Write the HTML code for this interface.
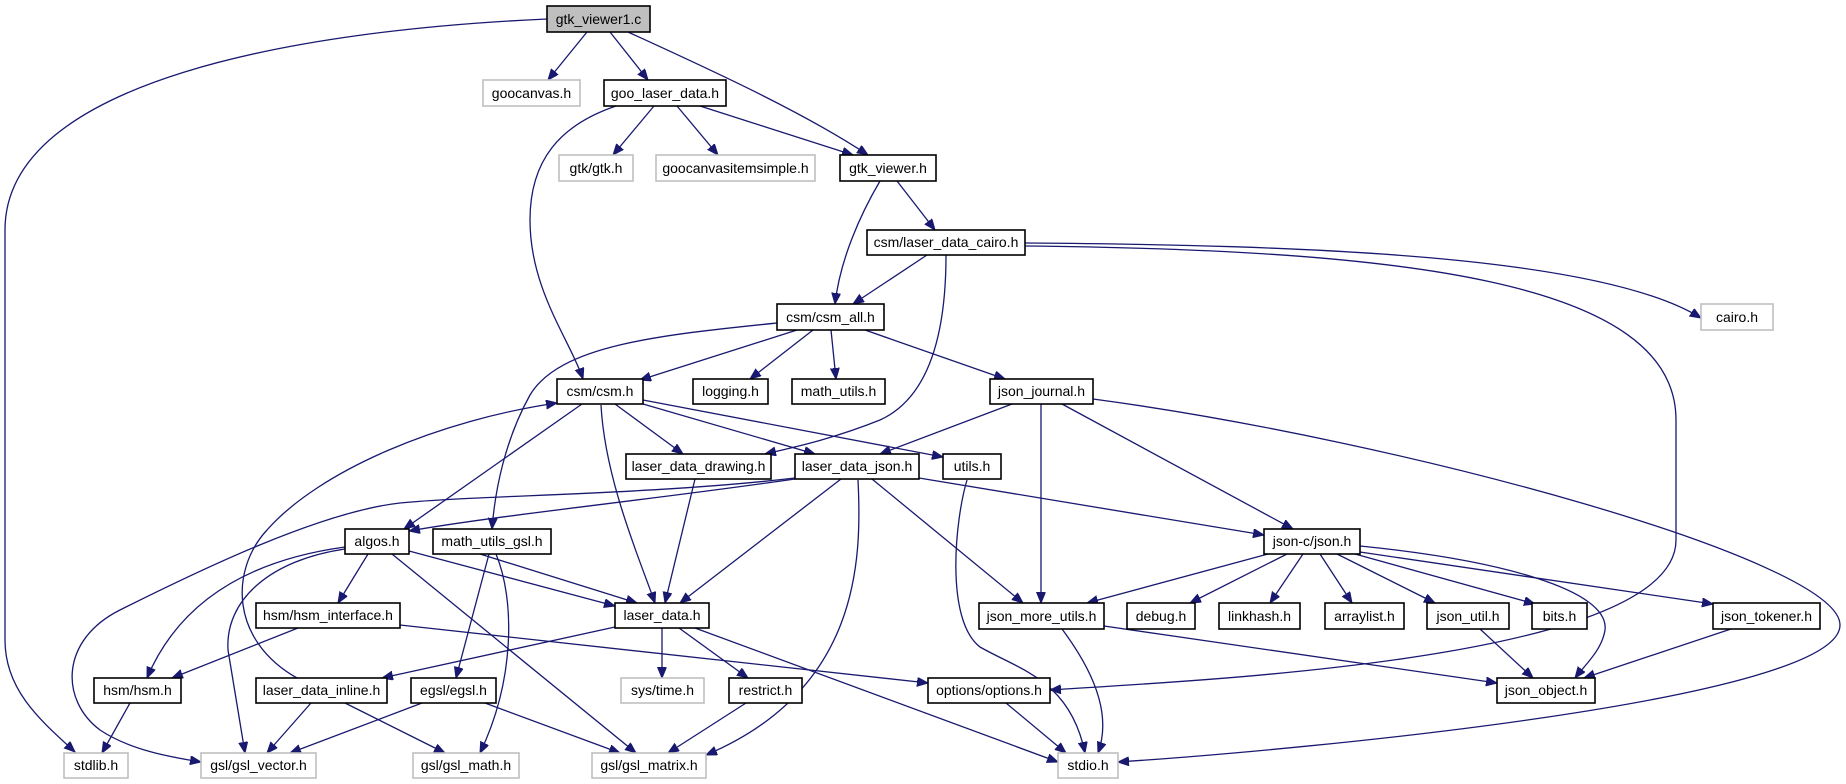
<!DOCTYPE html>
<html><head><meta charset="utf-8"><style>
html,body{margin:0;padding:0;background:#fff;}
svg{display:block;}
text{font-family:"Liberation Sans",sans-serif;font-size:14px;text-anchor:middle;fill:#000;}
.n{fill:#fff;stroke:#000;stroke-width:1.6;}
.g{fill:#fff;stroke:#bfbfbf;stroke-width:1.6;}
.r{fill:#bfbfbf;stroke:#000;stroke-width:1.6;}
path{fill:none;stroke:#191970;stroke-width:1.3;}
</style></head><body>
<svg width="1846" height="784" viewBox="0 0 1846 784" xmlns="http://www.w3.org/2000/svg">
<defs><marker id="a" markerUnits="userSpaceOnUse" markerWidth="12" markerHeight="10" refX="11" refY="4.5" orient="auto"><path d="M0,0 L11,4.5 L0,9 Z" style="fill:#191970;stroke:#191970;stroke-width:1"/></marker></defs>
<g marker-end="url(#a)">
<path d="M547,19 C300,30 5,80 5,230 L5,640 C5,690 40,720 75,752"/>
<path d="M587,32 L548,80"/>
<path d="M610,32 L648,80"/>
<path d="M628,32 C700,65 800,110 868,155"/>
<path d="M654,106 L613,155"/>
<path d="M677,106 L718,155"/>
<path d="M700,106 L853,155"/>
<path d="M616,106 C560,125 530,160 530,220 C530,290 570,340 583,379"/>
<path d="M880,181 C860,215 840,260 835,304"/>
<path d="M897,181 L935,230"/>
<path d="M927,255 L853,304"/>
<path d="M946,255 C946,320 935,395 880,420 C830,440 790,448 765,454"/>
<path d="M1025,243 C1300,245 1600,255 1701,318"/>
<path d="M1025,246 C1400,250 1676,280 1676,420 L1676,540 C1676,660 1200,680 1050,690"/>
<path d="M797,330 L640,380"/>
<path d="M813,330 L750,379"/>
<path d="M831,330 L836,379"/>
<path d="M865,330 L1005,379"/>
<path d="M777,323 C660,335 560,345 530,395 C505,440 495,490 492,529"/>
<path d="M582,404 L404,529"/>
<path d="M601,405 C605,480 640,560 655,603"/>
<path d="M615,404 L683,454"/>
<path d="M643,404 L815,454"/>
<path d="M643,400 L943,457"/>
<path d="M1012,404 L880,454"/>
<path d="M1041,404 L1041,603"/>
<path d="M1062,404 L1293,529"/>
<path d="M1093,399 C1400,440 1840,560 1840,625 C1840,700 1300,750 1118,762"/>
<path d="M695,479 L665,603"/>
<path d="M841,479 L680,603"/>
<path d="M858,480 C862,560 860,690 706,755"/>
<path d="M872,479 L1023,603"/>
<path d="M919,478 L1264,535"/>
<path d="M795,479 C650,500 500,515 409,531"/>
<path d="M795,478 C650,495 480,495 400,503 C320,512 200,570 120,610 C60,640 60,700 100,730 C130,750 170,757 201,762"/>
<path d="M967,480 C955,520 945,620 980,647 C1020,670 1070,680 1085,753"/>
<path d="M368,554 L338,603"/>
<path d="M409,551 L615,606"/>
<path d="M392,554 L636,753"/>
<path d="M345,547 C250,560 180,600 147,678"/>
<path d="M345,549 C270,560 225,600 228,650 L245,753"/>
<path d="M480,554 L637,603"/>
<path d="M489,554 L456,678"/>
<path d="M496,554 C515,600 515,680 480,753"/>
<path d="M298,628 L172,678"/>
<path d="M400,625 L928,683"/>
<path d="M615,627 L382,678"/>
<path d="M662,628 L662,678"/>
<path d="M679,628 L748,678"/>
<path d="M695,628 L1058,762"/>
<path d="M297,678 C230,640 230,570 267,530 C320,470 440,420 557,403"/>
<path d="M311,703 L267,753"/>
<path d="M345,703 L445,753"/>
<path d="M422,703 L290,753"/>
<path d="M485,703 L620,753"/>
<path d="M746,703 L668,753"/>
<path d="M130,703 L102,753"/>
<path d="M1268,554 L1087,603"/>
<path d="M1287,554 L1190,603"/>
<path d="M1303,554 L1270,603"/>
<path d="M1320,554 L1352,603"/>
<path d="M1337,554 L1435,603"/>
<path d="M1355,554 L1535,604"/>
<path d="M1360,552 L1713,604"/>
<path d="M1360,546 C1500,560 1610,590 1605,630 C1602,650 1585,665 1575,678"/>
<path d="M1480,629 L1533,678"/>
<path d="M1731,629 L1584,678"/>
<path d="M1104,626 L1497,683"/>
<path d="M1062,629 C1100,680 1110,720 1098,753"/>
<path d="M1006,703 L1066,753"/>
</g>
<rect class="r" x="547" y="6" width="103" height="26"/><text x="598.5" y="24">gtk_viewer1.c</text>
<rect class="g" x="483" y="80" width="97" height="26"/><text x="531.5" y="98">goocanvas.h</text>
<rect class="n" x="604" y="80" width="122" height="26"/><text x="665" y="98">goo_laser_data.h</text>
<rect class="g" x="559" y="155" width="74" height="26"/><text x="596" y="173">gtk/gtk.h</text>
<rect class="g" x="656" y="155" width="159" height="26"/><text x="735.5" y="173">goocanvasitemsimple.h</text>
<rect class="n" x="840" y="155" width="96" height="26"/><text x="888" y="173">gtk_viewer.h</text>
<rect class="n" x="867" y="230" width="158" height="25"/><text x="946" y="247">csm/laser_data_cairo.h</text>
<rect class="n" x="777" y="304" width="107" height="26"/><text x="830.5" y="322">csm/csm_all.h</text>
<rect class="g" x="1701" y="304" width="72" height="26"/><text x="1737" y="322">cairo.h</text>
<rect class="n" x="557" y="379" width="86" height="25"/><text x="600" y="396">csm/csm.h</text>
<rect class="n" x="693" y="379" width="75" height="25"/><text x="730.5" y="396">logging.h</text>
<rect class="n" x="792" y="379" width="93" height="25"/><text x="838.5" y="396">math_utils.h</text>
<rect class="n" x="990" y="379" width="103" height="25"/><text x="1041.5" y="396">json_journal.h</text>
<rect class="n" x="626" y="454" width="145" height="25"/><text x="698.5" y="471">laser_data_drawing.h</text>
<rect class="n" x="795" y="454" width="124" height="25"/><text x="857" y="471">laser_data_json.h</text>
<rect class="n" x="943" y="454" width="58" height="25"/><text x="972" y="471">utils.h</text>
<rect class="n" x="345" y="529" width="64" height="25"/><text x="377" y="546">algos.h</text>
<rect class="n" x="433" y="529" width="118" height="25"/><text x="492" y="546">math_utils_gsl.h</text>
<rect class="n" x="1264" y="529" width="96" height="25"/><text x="1312" y="546">json-c/json.h</text>
<rect class="n" x="256" y="603" width="144" height="25"/><text x="328" y="620">hsm/hsm_interface.h</text>
<rect class="n" x="615" y="603" width="94" height="25"/><text x="662" y="620">laser_data.h</text>
<rect class="n" x="979" y="603" width="125" height="26"/><text x="1041.5" y="621">json_more_utils.h</text>
<rect class="n" x="1127" y="603" width="68" height="26"/><text x="1161" y="621">debug.h</text>
<rect class="n" x="1219" y="603" width="81" height="26"/><text x="1259.5" y="621">linkhash.h</text>
<rect class="n" x="1325" y="603" width="79" height="26"/><text x="1364.5" y="621">arraylist.h</text>
<rect class="n" x="1427" y="603" width="82" height="26"/><text x="1468" y="621">json_util.h</text>
<rect class="n" x="1532" y="603" width="55" height="26"/><text x="1559.5" y="621">bits.h</text>
<rect class="n" x="1713" y="603" width="107" height="26"/><text x="1766.5" y="621">json_tokener.h</text>
<rect class="n" x="94" y="678" width="87" height="25"/><text x="137.5" y="695">hsm/hsm.h</text>
<rect class="n" x="256" y="678" width="131" height="25"/><text x="321.5" y="695">laser_data_inline.h</text>
<rect class="n" x="411" y="678" width="85" height="25"/><text x="453.5" y="695">egsl/egsl.h</text>
<rect class="g" x="621" y="678" width="83" height="25"/><text x="662.5" y="695">sys/time.h</text>
<rect class="n" x="729" y="678" width="73" height="25"/><text x="765.5" y="695">restrict.h</text>
<rect class="n" x="928" y="678" width="122" height="25"/><text x="989" y="695">options/options.h</text>
<rect class="n" x="1497" y="678" width="98" height="25"/><text x="1546" y="695">json_object.h</text>
<rect class="g" x="64" y="753" width="64" height="25"/><text x="96" y="770">stdlib.h</text>
<rect class="g" x="201" y="753" width="115" height="25"/><text x="258.5" y="770">gsl/gsl_vector.h</text>
<rect class="g" x="413" y="753" width="106" height="25"/><text x="466" y="770">gsl/gsl_math.h</text>
<rect class="g" x="592" y="753" width="114" height="25"/><text x="649" y="770">gsl/gsl_matrix.h</text>
<rect class="g" x="1058" y="753" width="60" height="25"/><text x="1088" y="770">stdio.h</text>
</svg>
</body></html>
